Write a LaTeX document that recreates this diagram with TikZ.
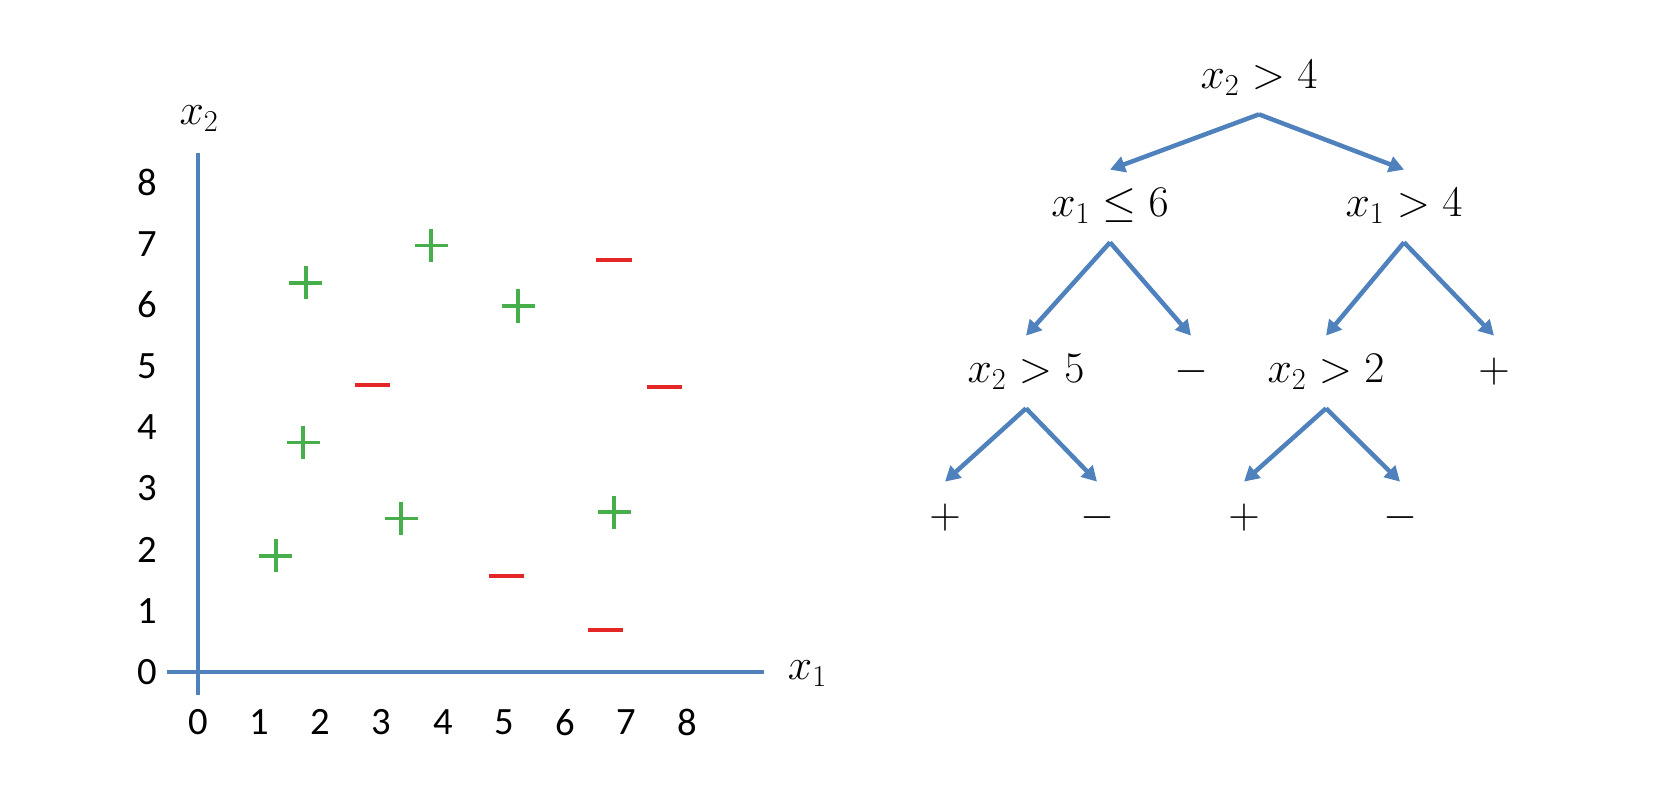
\documentclass[tikz,border=0pt]{standalone}
\usepackage{fontspec}
\newfontfamily\tickfont{Carlito}
\usetikzlibrary{arrows.meta}

\definecolor{axisblue}{RGB}{79,129,189}
\definecolor{plusgreen}{RGB}{70,175,75}
\definecolor{minusred}{RGB}{228,38,38}

\tikzset{
    ticklabel/.style = {font=\tickfont\fontsize{22}{26}\selectfont},
    varlabel/.style = {font=\fontsize{23}{27}\selectfont},
    cond/.style = {font=\fontsize{23}{27}\selectfont, minimum height=1.44cm, inner sep=0pt},
    branch/.style = {->, color=axisblue, line width=.9mm},
    plusmark/.style = {color=plusgreen, line width=.75mm},
    minusmark/.style = {color=minusred, line width=.8mm},
}

\begin{document}
\begin{tikzpicture}[>={Triangle[length=3mm, width=3.2mm]}]
    \useasboundingbox (0, 0) rectangle (33.4, 15.84);

    % data in the (x_1, x_2) plane
    \begin{scope}[xshift = 3.96cm, yshift = 2.4cm, scale = 1.224]
        \draw [axisblue, line width = .9mm] (-0.51, 0)  --  (9.25, 0);
        \draw [axisblue, line width = .9mm] (0, -0.38)  --  (0, 8.48);
        \foreach \n in {0,...,8} {
            \node [ticklabel] (ytick\n) at (-0.83, \n) {\n};
            \node [ticklabel] (xtick\n) at (\n, -0.82) {\n};
        }
        \node [varlabel] (xtwo) at (0.02, 9.04) {$x_2$};
        \node [varlabel] (xone) at (9.96, -0.03) {$x_1$};

        \foreach \x/\y in {1.76/6.36, 3.81/6.97, 5.23/5.98, 1.72/3.75, 3.32/2.51, 6.80/2.61, 1.27/1.90}
            \draw [plusmark] (\x-0.27, \y)  --  (\x+0.27, \y)  (\x, \y-0.27)  --  (\x, \y+0.27);
        \foreach \x/\y in {6.80/6.74, 2.85/4.69, 7.62/4.65, 5.04/1.57, 6.66/0.68}
            \draw [minusmark] (\x-0.29, \y)  --  (\x+0.29, \y);
    \end{scope}

    % the tree
    \node [cond] (root) at (25.18, 14.28) {$x_2 > 4$};
    \node [cond] (lowA) at (22.20, 11.72) {$x_1 \leq 6$};
    \node [cond] (highA) at (28.08, 11.72) {$x_1 > 4$};
    \node [cond] (lowB) at (20.52, 8.40) {$x_2 > 5$};
    \node [cond] (lowleaf) at (23.82, 8.40) {$-$};
    \node [cond] (highB) at (26.52, 8.40) {$x_2 > 2$};
    \node [cond] (highleaf) at (29.88, 8.40) {$+$};
    \node [cond] (leafA) at (18.90, 5.48) {$+$};
    \node [cond] (leafB) at (21.94, 5.48) {$-$};
    \node [cond] (leafC) at (24.88, 5.48) {$+$};
    \node [cond] (leafD) at (28.00, 5.48) {$-$};

    \draw [branch] (root.south)  --  (lowA.north);
    \draw [branch] (root.south)  --  (highA.north);
    \draw [branch] (lowA.south)  --  (lowB.north);
    \draw [branch] (lowA.south)  --  (lowleaf.north);
    \draw [branch] (highA.south)  --  (highB.north);
    \draw [branch] (highA.south)  --  (highleaf.north);
    \draw [branch] (lowB.south)  --  (leafA.north);
    \draw [branch] (lowB.south)  --  (leafB.north);
    \draw [branch] (highB.south)  --  (leafC.north);
    \draw [branch] (highB.south)  --  (leafD.north);

\end{tikzpicture}
\end{document}
